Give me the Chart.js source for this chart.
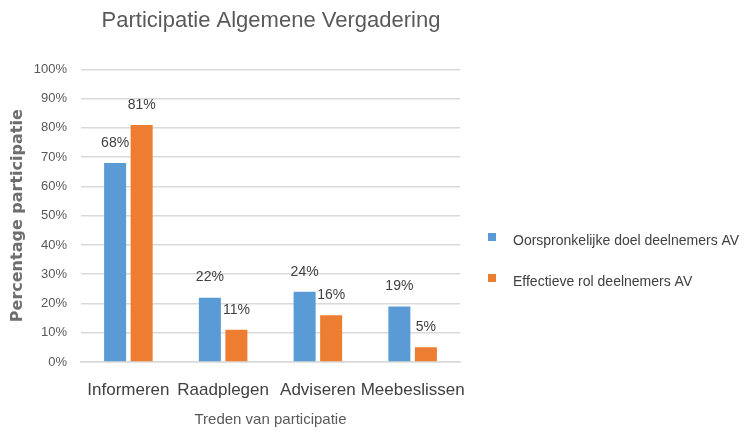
<!DOCTYPE html>
<html>
<head>
<meta charset="utf-8">
<script src="https://cdn.jsdelivr.net/npm/chart.js@4.4.1/dist/chart.umd.min.js"></script>
<style>
  html, body { margin: 0; padding: 0; background: #fff; }
</style>
</head>
<body>
<canvas id="chart" width="749" height="433"></canvas>
<script>
// Daten
const categories = ["Informeren", "Raadplegen", "Adviseren", "Meebeslissen"];
const doelValues = [68, 22, 24, 19];
const rolValues = [81, 11, 16, 5];
const seriesNames = ["Oorspronkelijke doel deelnemers AV", "Effectieve rol deelnemers AV"];
const seriesColors = ["#5B9BD5", "#ED7D31"];

const FONT = "'Liberation Sans', Arial, sans-serif";

// Prozent-Labels über den Balken
const valueLabels = {
  id: "valueLabels",
  afterDatasetsDraw(chart) {
    const ctx = chart.ctx;
    ctx.save();
    ctx.font = "14px " + FONT;
    ctx.fillStyle = "#404040";
    ctx.textAlign = "center";
    ctx.textBaseline = "middle";
    chart.data.datasets.forEach((ds, i) => {
      chart.getDatasetMeta(i).data.forEach((bar, j) => {
        ctx.fillText(ds.data[j] + "%", bar.x, bar.y - 20);
      });
    });
    ctx.restore();
  }
};

// Legende rechts (eigene Zeichnung, Chart.js begrenzt die Breite sonst)
const sideLegend = {
  id: "sideLegend",
  afterDraw(chart) {
    const ctx = chart.ctx;
    const area = chart.chartArea;
    const x = area.right + 28;
    const y0 = 240;
    const step = 41;
    ctx.save();
    ctx.font = "14px " + FONT;
    ctx.textBaseline = "middle";
    ctx.textAlign = "left";
    chart.data.datasets.forEach((ds, i) => {
      const y = y0 + i * step;
      ctx.fillStyle = ds.backgroundColor;
      ctx.fillRect(x, y - 7, 8, 8);
      ctx.fillStyle = "#404040";
      ctx.fillText(ds.label, x + 25, y + 1);
    });
    ctx.restore();
  }
};

const ctx = document.getElementById("chart").getContext("2d");
new Chart(ctx, {
  type: "bar",
  data: {
    labels: categories,
    datasets: [
      { label: seriesNames[0], data: doelValues, backgroundColor: seriesColors[0] },
      { label: seriesNames[1], data: rolValues, backgroundColor: seriesColors[1] }
    ]
  },
  options: {
    responsive: false,
    animation: false,
    categoryPercentage: 0.56,
    barPercentage: 0.83,
    layout: { padding: { left: 0, right: 207, top: 0, bottom: 0 } },
    plugins: {
      title: {
        display: true,
        text: "Participatie Algemene Vergadering",
        color: "#595959",
        font: { family: FONT, size: 22, weight: "normal" },
        padding: { top: 8, bottom: 35 }
      },
      legend: { display: false },
      tooltip: { enabled: false }
    },
    scales: {
      x: {
        grid: { display: false, drawTicks: false },
        border: { display: true, color: "#d9d9d9", width: 1.5 },
        ticks: {
          color: "#404040",
          font: { family: FONT, size: 17 },
          padding: 18,
          autoSkip: false,
          maxRotation: 0,
          minRotation: 0
        },
        title: {
          display: true,
          text: "Treden van participatie",
          color: "#595959",
          font: { family: FONT, size: 15 },
          padding: { top: 0, bottom: 4 }
        },
        afterFit: (scale) => { scale.height = 71; }
      },
      y: {
        min: 0,
        max: 100,
        ticks: {
          stepSize: 10,
          color: "#595959",
          font: { family: FONT, size: 13 },
          padding: 14,
          callback: (v) => v + "%"
        },
        grid: { color: "#d9d9d9", lineWidth: 1.5, drawTicks: false },
        border: { display: false },
        title: {
          display: true,
          text: "Percentage participatie",
          color: "#6e6e6e",
          font: { family: "'DejaVu Sans', sans-serif", size: 16, weight: "bold" },
          padding: { top: 8, bottom: 6 }
        },
        afterFit: (scale) => { scale.width = 81; }
      },
      // leere Achse rechts: Platz für die Legende
      ySpace: {
        type: "linear",
        position: "right",
        display: true,
        grid: { display: false, drawTicks: false },
        border: { display: false },
        ticks: { display: false },
        afterFit: (scale) => { scale.width = 82; }
      }
    }
  },
  plugins: [valueLabels, sideLegend]
});
</script>
</body>
</html>
